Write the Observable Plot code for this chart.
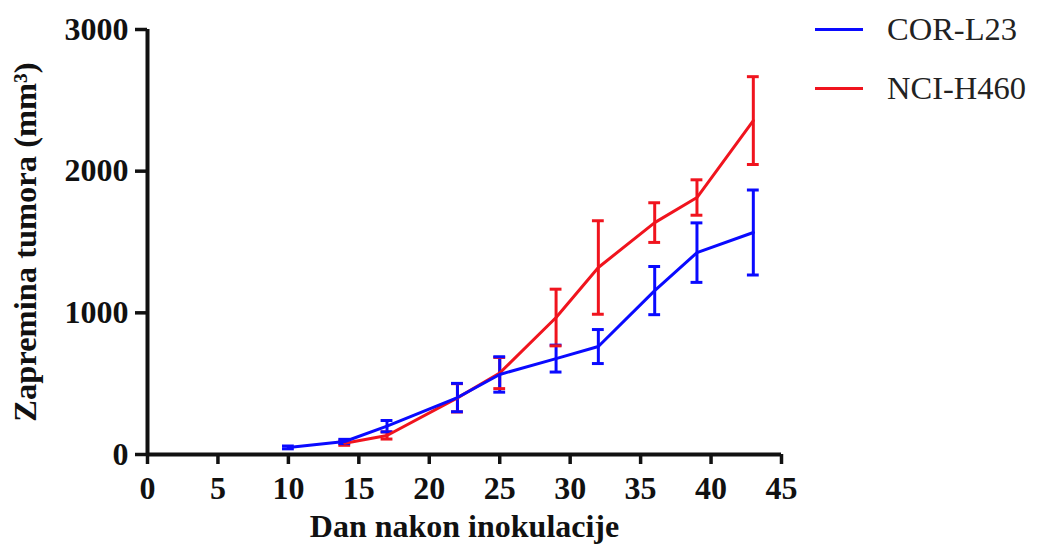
<!DOCTYPE html>
<html><head><meta charset="utf-8">
<script src="https://cdn.jsdelivr.net/npm/d3@7"></script>
<script src="https://cdn.jsdelivr.net/npm/@observablehq/plot@0.6"></script>
<style>
body{margin:0;background:#fff;}
#wrap{position:relative;width:1038px;height:544px;}
.leg{position:absolute;left:815px;font-family:"Liberation Serif",serif;font-size:32.5px;color:#222;display:flex;align-items:center;height:30px;}
.leg .sw{display:inline-block;width:48px;height:3px;margin-right:24px;}
#wrap svg text{font-family:"Liberation Serif",serif !important;fill:#111;}
#wrap svg g[aria-label="x-axis tick label"] text, #wrap svg g[aria-label="y-axis tick label"] text{font-weight:bold;font-size:32px;}
#wrap svg g[aria-label="x-axis tick"], #wrap svg g[aria-label="y-axis tick"]{stroke-width:3.5px !important;stroke:#111 !important;}
</style></head><body><div id="wrap"></div>
<script>
const series = ["COR-L23", "NCI-H460"];
const colors = ["#0a0aff", "#f0141e"];
const corDays = [10, 14, 17, 22, 25, 29, 32, 36, 39, 43];
const corMean = [50, 92, 200, 402, 565, 677, 762, 1157, 1425, 1567];
const corErr  = [10, 15, 40, 100, 125, 95, 120, 170, 210, 300];
const nciDays = [14, 17, 22, 25, 29, 32, 36, 39, 43];
const nciMean = [80, 134, 400, 575, 967, 1320, 1637, 1814, 2357];
const nciErr  = [15, 25, 100, 110, 200, 330, 140, 125, 310];
const xTicks = [0, 5, 10, 15, 20, 25, 30, 35, 40, 45];
const yTicks = [0, 1000, 2000, 3000];
const xLabel = "Dan nakon inokulacije";
const yLabel = "Zapremina tumora (mm³)";

const rows = [];
nciDays.forEach((d, i) => rows.push({day: d, v: nciMean[i], e: nciErr[i], s: series[1]}));
corDays.forEach((d, i) => rows.push({day: d, v: corMean[i], e: corErr[i], s: series[0]}));

const serif = "'Liberation Serif', serif";
const cap = 0.42;
const chart = Plot.plot({
  width: 1038, height: 544,
  marginLeft: 147, marginRight: 257, marginTop: 29, marginBottom: 90,
  style: {fontFamily: serif, background: "white", color: "#111"},
  x: {domain: [0, 45]},
  y: {domain: [0, 3000]},
  color: {domain: series, range: colors},
  marks: [
    Plot.axisX({ticks: xTicks, tickSize: 10, tickPadding: 12, tickFormat: d => String(d), label: null}),
    Plot.axisY({ticks: yTicks, tickSize: 12, tickPadding: 7, tickFormat: d => String(d), label: null}),
    Plot.text([xLabel], {frameAnchor: "bottom", dy: 72, textAnchor: "middle", lineAnchor: "middle", fontFamily: serif, fontWeight: "bold", fontSize: 32, fill: "#111"}),
    Plot.text([yLabel], {frameAnchor: "left", dx: -122, rotate: -90, textAnchor: "middle", lineAnchor: "middle", fontFamily: serif, fontWeight: "bold", fontSize: 32.5, fill: "#111"}),
    Plot.ruleY([0], {stroke: "#111", strokeWidth: 4}),
    Plot.ruleX([0], {stroke: "#111", strokeWidth: 4}),
    Plot.ruleX(rows, {x: "day", y1: d => d.v - d.e, y2: d => d.v + d.e, stroke: "s", strokeWidth: 3}),
    Plot.ruleY(rows, {y: d => d.v + d.e, x1: d => d.day - cap, x2: d => d.day + cap, stroke: "s", strokeWidth: 3}),
    Plot.ruleY(rows, {y: d => d.v - d.e, x1: d => d.day - cap, x2: d => d.day + cap, stroke: "s", strokeWidth: 3}),
    Plot.line(rows, {x: "day", y: "v", z: "s", stroke: "s", strokeWidth: 3})
  ]
});
const wrap = document.getElementById("wrap");
wrap.appendChild(chart);
series.forEach((name, i) => {
  const div = document.createElement("div");
  div.className = "leg";
  div.style.top = (14 + i * 59) + "px";
  div.innerHTML = `<span class="sw" style="background:${colors[i]}"></span><span>${name}</span>`;
  wrap.appendChild(div);
});
</script></body></html>
